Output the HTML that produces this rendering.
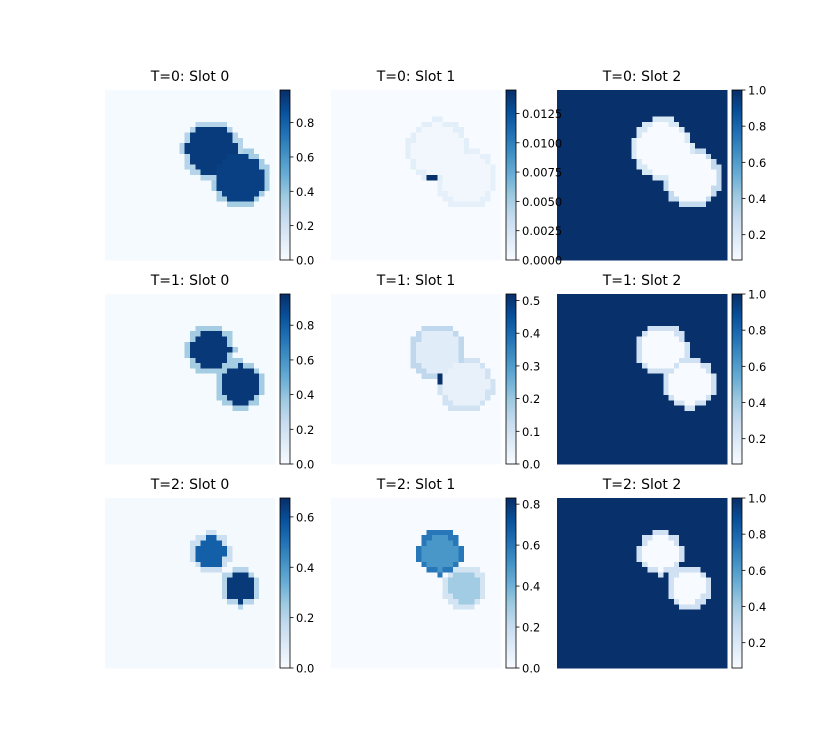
<!DOCTYPE html>
<html><head><meta charset="utf-8"><style>
html,body{margin:0;padding:0;background:#fff;}
svg{display:block;font-family:"DejaVu Sans","Liberation Sans",sans-serif;}
</style></head><body>
<svg id="fig" width="825" height="750" viewBox="0 0 825 750" xmlns="http://www.w3.org/2000/svg"></svg>
<script>
// ---- data ----
const timesteps = [0, 1, 2];
const slots = [0, 1, 2];
const gridSize = 32;
const vmaxs = [[0.99, 0.0145, 1.0], [0.98, 0.52, 1.0], [0.675, 0.83, 1.0]];
const vmins = [[0.0, 0.0, 0.06], [0.0, 0.0, 0.06], [0.0, 0.0, 0.06]];
const backgrounds = [[0.01, 0.0, 1.0], [0.01, 0.0, 1.0], [0.01, 0.0, 1.0]];
// blobs per panel: [cx, cy, r, insideValue, rimValue] in grid cells
const blobs = [
  [
    [[20.1, 11.3, 5.4, 0.95, 0.3], [25.4, 16.6, 5.3, 0.93, 0.35]],
    [[20.1, 11.3, 5.6, 0.0004, 0.0015], [25.4, 16.6, 5.5, 0.0004, 0.0012], [18.9, 16.4, 0.5, 0.0145, 0.0145]],
    [[19.8, 11.0, 5.5, 0.0, 0.2], [25.3, 16.5, 5.3, 0.0, 0.3]]
  ],
  [
    [[19.9, 10.5, 4.4, 0.95, 0.35], [25.4, 17.1, 4.4, 0.95, 0.35]],
    [[20.1, 10.9, 5.0, 0.06, 0.14], [25.4, 17.1, 5.0, 0.04, 0.1], [20.4, 15.9, 0.5, 0.52, 0.52]],
    [[19.8, 10.5, 4.6, 0.0, 0.25], [25.0, 16.8, 4.6, 0.0, 0.25]]
  ],
  [
    [[19.9, 10.2, 3.6, 0.55, 0.15], [25.4, 16.8, 3.5, 0.65, 0.2]],
    [[20.5, 10.3, 4.0, 0.5, 0.6], [25.2, 16.8, 3.8, 0.3, 0.15]],
    [[19.5, 10.4, 3.9, 0.0, 0.25], [24.8, 16.8, 3.8, 0.0, 0.25]]
  ]
];
const tickLabels = [
  [["0.0","0.2","0.4","0.6","0.8"], ["0.0000","0.0025","0.0050","0.0075","0.0100","0.0125"], ["0.2","0.4","0.6","0.8","1.0"]],
  [["0.0","0.2","0.4","0.6","0.8"], ["0.0","0.1","0.2","0.3","0.4","0.5"], ["0.2","0.4","0.6","0.8","1.0"]],
  [["0.0","0.2","0.4","0.6"], ["0.0","0.2","0.4","0.6","0.8"], ["0.2","0.4","0.6","0.8","1.0"]]
];

// ---- layout ----
const colX = [105, 331, 557], rowY = [90, 294, 498], S = 170;
const NS = "http://www.w3.org/2000/svg";
const svg = document.getElementById('fig');
function mk(tag, attrs, parent) {
  const e = document.createElementNS(NS, tag);
  for (const k in attrs) e.setAttribute(k, attrs[k]);
  (parent || svg).appendChild(e);
  return e;
}
const stops = ["#f7fbff","#deebf7","#c6dbef","#9ecae1","#6baed6","#4292c6","#2171b5","#08519c","#08306b"].map(h=>[parseInt(h.slice(1,3),16),parseInt(h.slice(3,5),16),parseInt(h.slice(5,7),16)]);
function blues(t) {
  t = Math.max(0, Math.min(1, t)) * 8;
  const i = Math.min(7, Math.floor(t)), f = t - i;
  const a = stops[i], b = stops[i+1];
  return `rgb(${a.map((v,k)=>Math.round(v+(b[k]-v)*f)).join(',')})`;
}
function cellValue(r, c, i, j) {
  const x = j + 0.5, y = i + 0.5;
  let inside = null, rim = null, dot = null;
  for (const b of blobs[r][c]) {
    const d = Math.hypot(x - b[0], y - b[1]);
    if (b[2] < 1) { if (d < 0.75) dot = b[3]; continue; }
    if (d < b[2] - 0.7) inside = b[3];
    else if (d < b[2] + 0.3 && rim === null) rim = b[4];
  }
  if (dot !== null) return dot;
  if (inside !== null) return inside;
  if (rim !== null) return rim;
  return backgrounds[r][c];
}
timesteps.forEach((t, r) => {
  slots.forEach((s, c) => {
    const x0 = colX[c], y0 = rowY[r], vmin = vmins[r][c], vmax = vmaxs[r][c];
    const g = mk('g', {});
    
    
    const cs = S / gridSize;
    for (let i = 0; i < gridSize; i++) for (let j = 0; j < gridSize; j++) {
      const v = cellValue(r, c, i, j);
      mk('rect', {x: (x0 + j*cs).toFixed(2), y: (y0 + i*cs).toFixed(2), width: (cs+0.4).toFixed(2), height: (cs+0.4).toFixed(2), fill: blues((v - vmin)/(vmax - vmin)), 'shape-rendering':'crispEdges'}, g);
    }
    const title = mk('text', {x: x0 + S/2, y: y0 - 9, 'text-anchor':'middle', 'font-size': 14, fill:'#000'});
    title.textContent = `T=${t}: Slot ${s}`;
    
    
  });
});
timesteps.forEach((t, r) => {
  slots.forEach((s, c) => {
    const x0 = colX[c], y0 = rowY[r], vmin = vmins[r][c], vmax = vmaxs[r][c];
    const cb = mk('g', {});
    
    
    const bx = x0 + S + 5, bw = 10, N = 85;
    for (let k = 0; k < N; k++) {
      mk('rect', {x: bx, y: (y0 + S - (k+1)*S/N).toFixed(2), width: bw, height: (S/N + 0.5).toFixed(2), fill: blues(k/(N-1)), 'shape-rendering':'crispEdges'}, cb);
    }
    mk('rect', {x: bx, y: y0, width: bw, height: S, fill:'none', stroke:'#000', 'stroke-width':0.8}, cb);
    tickLabels[r][c].forEach(lab => {
      const val = parseFloat(lab);
      const ty = y0 + S - (val - vmin)/(vmax - vmin) * S;
      mk('line', {x1: bx + bw, x2: bx + bw + 3.5, y1: ty, y2: ty, stroke:'#000', 'stroke-width':0.8}, cb);
      const tl = mk('text', {x: bx + bw + 6, y: ty + 4.5, 'font-size': 11.5, fill:'#000'}, cb);
      tl.textContent = lab;
      
      
    });
  });
});
</script>
</body></html>
